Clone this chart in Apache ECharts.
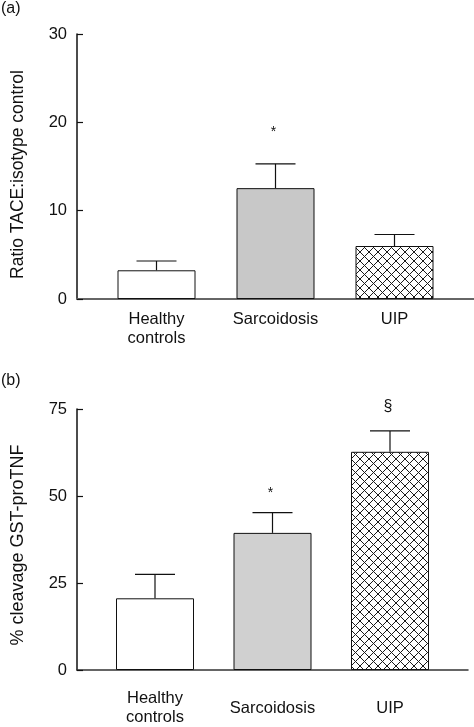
<!DOCTYPE html>
<html><head><meta charset="utf-8">
<script src="https://cdn.jsdelivr.net/npm/echarts@6/dist/echarts.min.js"></script>
<style>html,body{margin:0;padding:0;background:#fff}#c{width:474px;height:727px}</style>
</head><body><div id="c"></div>
<script>
// ---- data ----
const categories = ['Healthy\ncontrols', 'Sarcoidosis', 'UIP'];
const ratioMeans = [3.25, 12.55, 6.0];
const ratioSEM = [1.05, 2.75, 1.3];
const ratioSig = ['', '*', ''];
const ratioTicks = [0, 10, 20, 30];
const ratioTitle = 'Ratio TACE:isotype control';
const cleavageMeans = [20.6, 39.4, 62.7];
const cleavageSEM = [6.9, 5.8, 6.0];
const cleavageSig = ['', '*', '§'];
const cleavageTicks = [0, 25, 50, 75];
const cleavageTitle = '% cleavage GST-proTNF';

// ---- styles ----
const FONT = '"Liberation Sans", Arial, Helvetica, sans-serif';
const INK = '#111';
function hatchCanvas() {
  const n = 9, c = document.createElement('canvas');
  c.width = n; c.height = n;
  const g = c.getContext('2d');
  g.fillStyle = '#fff'; g.fillRect(0, 0, n, n);
  g.strokeStyle = '#1a1a1a'; g.lineWidth = 1;
  g.beginPath();
  g.moveTo(-1, -1); g.lineTo(n + 1, n + 1);
  g.moveTo(n + 1, -1); g.lineTo(-1, n + 1);
  g.stroke();
  return c;
}
const hatch = { image: hatchCanvas(), repeat: 'repeat' };
const fillsA = ['#ffffff', '#c8c8c8', hatch];
const fillsB = ['#ffffff', '#d0d0d0', hatch];

function frameX(gi, color, w) {
  return { type: 'value', gridIndex: gi, min: 0, max: 1, axisLine: { show: true, onZero: false, lineStyle: { color: color, width: w } },
    axisTick: { show: false }, axisLabel: { show: false }, splitLine: { show: false } };
}
function frameY(gi) {
  return { type: 'value', gridIndex: gi, min: 0, max: 1, show: false };
}
function catX(gi, va, margin) {
  return { type: 'category', gridIndex: gi, data: categories, boundaryGap: true,
    axisLine: { show: false }, axisTick: { show: false },
    axisLabel: { interval: 0, margin: margin, verticalAlign: va, color: INK, fontSize: 16.5, lineHeight: 19, fontFamily: FONT } };
}
function valY(gi, ticks, off) {
  return { type: 'value', gridIndex: gi, min: ticks[0], max: ticks[ticks.length - 1], interval: ticks[1] - ticks[0], offset: off,
    axisLine: { show: true, lineStyle: { color: INK, width: 1.5 } },
    axisTick: { show: true, inside: true, length: 6, lineStyle: { color: INK, width: 1.2 } },
    axisLabel: { margin: 10, color: INK, fontSize: 16.5, fontFamily: FONT },
    splitLine: { show: false } };
}
function bars(gi, means, fills, bw) {
  return { type: 'bar', xAxisIndex: gi, yAxisIndex: gi, barWidth: bw, z: 2,
    data: means.map((v, i) => ({ value: v, itemStyle: { color: fills[i] } })),
    itemStyle: { borderColor: INK, borderWidth: 1 } };
}
function errs(gi, means, sem, sig, sigGap) {
  return { type: 'custom', xAxisIndex: gi, yAxisIndex: gi, z: 3,
    data: means.map((v, i) => [i, v, sem[i]]),
    renderItem: function (params, api) {
      const i = api.value(0), v = api.value(1), e = api.value(2);
      const base = api.coord([i, v]);
      const top = api.coord([i, v + e]);
      const x = base[0];
      const ls = { stroke: INK, lineWidth: 1.2 };
      const ch = [
        { type: 'line', shape: { x1: x, y1: base[1], x2: x, y2: top[1] }, style: ls },
        { type: 'line', shape: { x1: x - 20, y1: top[1], x2: x + 20, y2: top[1] }, style: ls }
      ];
      const s = sig[params.dataIndex];
      if (s) {
        const isStar = s === '*';
        ch.push({ type: 'text', style: { text: s, x: x - 2, y: top[1] - sigGap + (isStar ? 4 : 0),
          fill: INK, fontSize: isStar ? 14 : 16, fontFamily: FONT, align: 'center', verticalAlign: 'middle' } });
      }
      return { type: 'group', children: ch };
    } };
}

const option = {
  animation: false,
  backgroundColor: '#fff',
  grid: [
    { left: 77, right: 0, top: 34, height: 265 },
    { left: 97, width: 357, top: 34, height: 265 },
    { left: 77, width: 391, top: 409, height: 261 },
    { left: 96.25, width: 352.5, top: 409, height: 261 }
  ],
  xAxis: [frameX(0, '#666', 2), catX(1, 'top', 11), frameX(2, '#333', 1.5), catX(3, 'middle', 38)],
  yAxis: [frameY(0), valY(1, ratioTicks, 20), frameY(2), valY(3, cleavageTicks, 19.25)],
  series: [
    bars(1, ratioMeans, fillsA, 78),
    errs(1, ratioMeans, ratioSEM, ratioSig, 36),
    bars(3, cleavageMeans, fillsB, 78),
    errs(3, cleavageMeans, cleavageSEM, cleavageSig, 24)
  ],
  graphic: [
    { type: 'text', x: 1, y: 9, style: { text: '(a)', fontSize: 16, fontFamily: FONT, fill: INK, align: 'left', verticalAlign: 'middle' } },
    { type: 'text', x: 1, y: 381, style: { text: '(b)', fontSize: 16, fontFamily: FONT, fill: INK, align: 'left', verticalAlign: 'middle' } },
    { type: 'text', x: 18, y: 174.5, rotation: Math.PI / 2, style: { text: ratioTitle, fontSize: 17.5, fontFamily: FONT, fill: INK, align: 'center', verticalAlign: 'middle' } },
    { type: 'text', x: 18, y: 545, rotation: Math.PI / 2, style: { text: cleavageTitle, fontSize: 18, fontFamily: FONT, fill: INK, align: 'center', verticalAlign: 'middle' } }
  ]
};
const chart = echarts.init(document.getElementById('c'), null, { renderer: 'canvas' });
chart.setOption(option);
</script>
</body></html>
